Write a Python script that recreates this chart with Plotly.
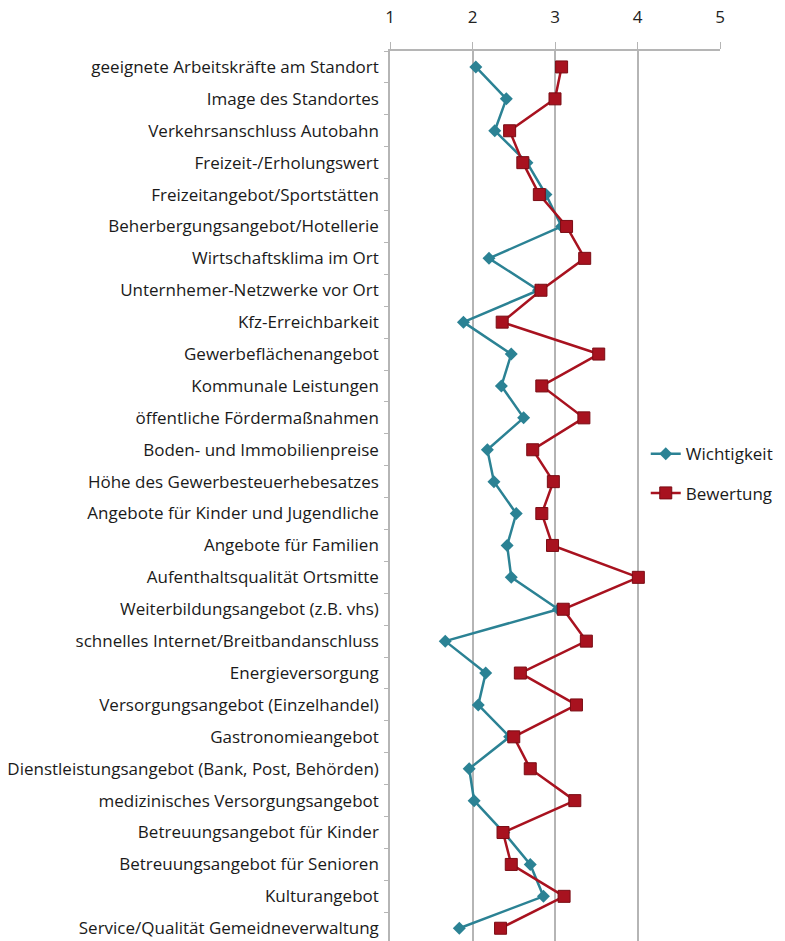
import plotly.graph_objects as go

categories = [
    "geeignete Arbeitskräfte am Standort",
    "Image des Standortes",
    "Verkehrsanschluss Autobahn",
    "Freizeit-/Erholungswert",
    "Freizeitangebot/Sportstätten",
    "Beherbergungsangebot/Hotellerie",
    "Wirtschaftsklima im Ort",
    "Unternhemer-Netzwerke vor Ort",
    "Kfz-Erreichbarkeit",
    "Gewerbeflächenangebot",
    "Kommunale Leistungen",
    "öffentliche Fördermaßnahmen",
    "Boden- und Immobilienpreise",
    "Höhe des Gewerbesteuerhebesatzes",
    "Angebote für Kinder und Jugendliche",
    "Angebote für Familien",
    "Aufenthaltsqualität Ortsmitte",
    "Weiterbildungsangebot (z.B. vhs)",
    "schnelles Internet/Breitbandanschluss",
    "Energieversorgung",
    "Versorgungsangebot (Einzelhandel)",
    "Gastronomieangebot",
    "Dienstleistungsangebot (Bank, Post, Behörden)",
    "medizinisches Versorgungsangebot",
    "Betreuungsangebot für Kinder",
    "Betreuungsangebot für Senioren",
    "Kulturangebot",
    "Service/Qualität Gemeidneverwaltung",
]

wichtigkeit = [2.04, 2.41, 2.27, 2.66, 2.89, 3.08, 2.20, 2.80, 1.89, 2.47,
               2.35, 2.62, 2.18, 2.26, 2.53, 2.42, 2.47, 3.04, 1.67, 2.16,
               2.07, 2.45, 1.96, 2.02, 2.38, 2.70, 2.86, 1.84]
bewertung = [3.08, 3.00, 2.45, 2.61, 2.81, 3.14, 3.36, 2.83, 2.36, 3.53,
             2.84, 3.35, 2.73, 2.98, 2.84, 2.97, 4.01, 3.10, 3.38, 2.58,
             3.26, 2.50, 2.70, 3.24, 2.37, 2.47, 3.11, 2.34]

x_ticks = [1, 2, 3, 4, 5]

teal = "#2b8294"
red = "#a8121f"

fig = go.Figure()
fig.add_trace(go.Scatter(
    x=wichtigkeit, y=categories, name="Wichtigkeit", mode="lines+markers",
    line=dict(color=teal, width=2.5),
    marker=dict(symbol="diamond", size=10, color=teal),
    legendgroup="w",
))
fig.add_trace(go.Scatter(
    x=bewertung, y=categories, name="Bewertung", mode="lines+markers",
    line=dict(color=red, width=2.5),
    marker=dict(symbol="square", size=12, color=red, line=dict(color="#7a0c14", width=1)),
    legendgroup="b",
))

fig.update_layout(
    width=785, height=941,
    margin=dict(l=390, r=65, t=51, b=0),
    paper_bgcolor="white", plot_bgcolor="white",
    font=dict(family="Open Sans", size=17, color="#1a1a1a"),
    showlegend=True,
    legend=dict(
        x=0.775, xanchor="left", y=0.525, yanchor="middle",
        bgcolor="white", font=dict(size=17, color="#1a1a1a"),
        traceorder="grouped", tracegroupgap=14, itemwidth=30,
    ),
    xaxis=dict(
        side="top", range=[1, 5], tickvals=x_ticks,
        ticktext=[str(v) for v in x_ticks],
        showgrid=True, gridcolor="#b5b5b5", gridwidth=1.5,
        showline=True, linecolor="#b5b5b5", linewidth=1.5,
        ticks="outside", ticklen=7, tickcolor="#b5b5b5",
        ticklabelstandoff=12, zeroline=False,
        tickfont=dict(size=17, color="#222222"),
    ),
    yaxis=dict(
        type="category", categoryorder="array", categoryarray=categories,
        range=[27.4, -0.5], showgrid=False,
        showline=True, linecolor="#b5b5b5", linewidth=1.5,
        ticks="outside", ticklen=4, tickcolor="#b5b5b5",
        tickson="boundaries", ticklabelstandoff=6,
        tickfont=dict(size=17, color="#1a1a1a"),
    ),
)

fig.write_html("out.html")
